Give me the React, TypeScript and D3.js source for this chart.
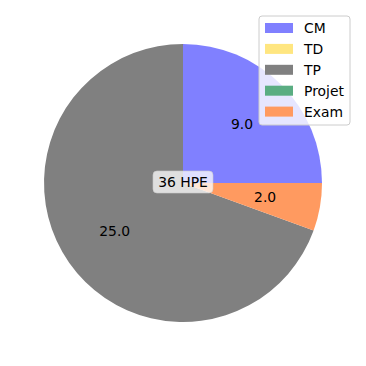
import React from "react";
import * as d3 from "d3";

const categories = ["CM", "TD", "TP", "Projet", "Exam"];
const values = [9, 0, 25, 0, 2];
const colors = ["#8080ff", "#ffe680", "#808080", "#5aad82", "#ff9a60"];
const centerLabel = "36 HPE";

export default function App() {
  const W = 366, H = 366;
  const cx = 183, cy = 183, r = 139;
  const font = "DejaVu Sans, sans-serif";
  const fs = 13.9;
  // matplotlib: start at 3 o'clock, counterclockwise
  const pie = d3
    .pie<number>()
    .sort(null)
    .value((d) => d)
    .startAngle(Math.PI / 2)
    .endAngle(Math.PI / 2 - 2 * Math.PI);
  const arcs = pie(values);
  const arc = d3.arc<d3.PieArcDatum<number>>().innerRadius(0).outerRadius(r);
  const labelArc = d3.arc<d3.PieArcDatum<number>>().innerRadius(r * 0.6).outerRadius(r * 0.6);

  return (
    <svg width={W} height={H} style={{ position: "absolute", left: 0, top: 0, background: "#fff" }}>
      <g transform={`translate(${cx},${cy})`}>
        {arcs.map((a, i) =>
          a.value > 0 ? <path key={i} d={arc(a) || ""} fill={colors[i]} /> : null
        )}
        {arcs.map((a, i) => {
          if (a.value <= 0) return null;
          const [x, y] = labelArc.centroid(a);
          return (
            <text key={i} x={x} y={y} textAnchor="middle" dominantBaseline="central" fontFamily={font} fontSize={fs} fill="#000">
              {a.value.toFixed(1)}
            </text>
          );
        })}
        <rect x={-30} y={-12} width={60} height={22} rx={4} fill="#ffffff" fillOpacity={0.75} stroke="#cccccc" strokeOpacity={0.6} />
        <text x={0} y={-1} textAnchor="middle" dominantBaseline="central" fontFamily={font} fontSize={fs} fill="#000">
          {centerLabel}
        </text>
      </g>
      <g>
        <rect x={259} y={16} width={91} height={109} rx={3} fill="#ffffff" fillOpacity={0.8} stroke="#cccccc" />
        {categories.map((c, i) => {
          const yc = 28 + i * 20.9;
          return (
            <g key={c}>
              <rect x={265} y={yc - 5} width={28} height={10} fill={colors[i]} />
              <text x={304} y={yc} dominantBaseline="central" fontFamily={font} fontSize={fs} fill="#000">
                {c}
              </text>
            </g>
          );
        })}
      </g>
    </svg>
  );
}
